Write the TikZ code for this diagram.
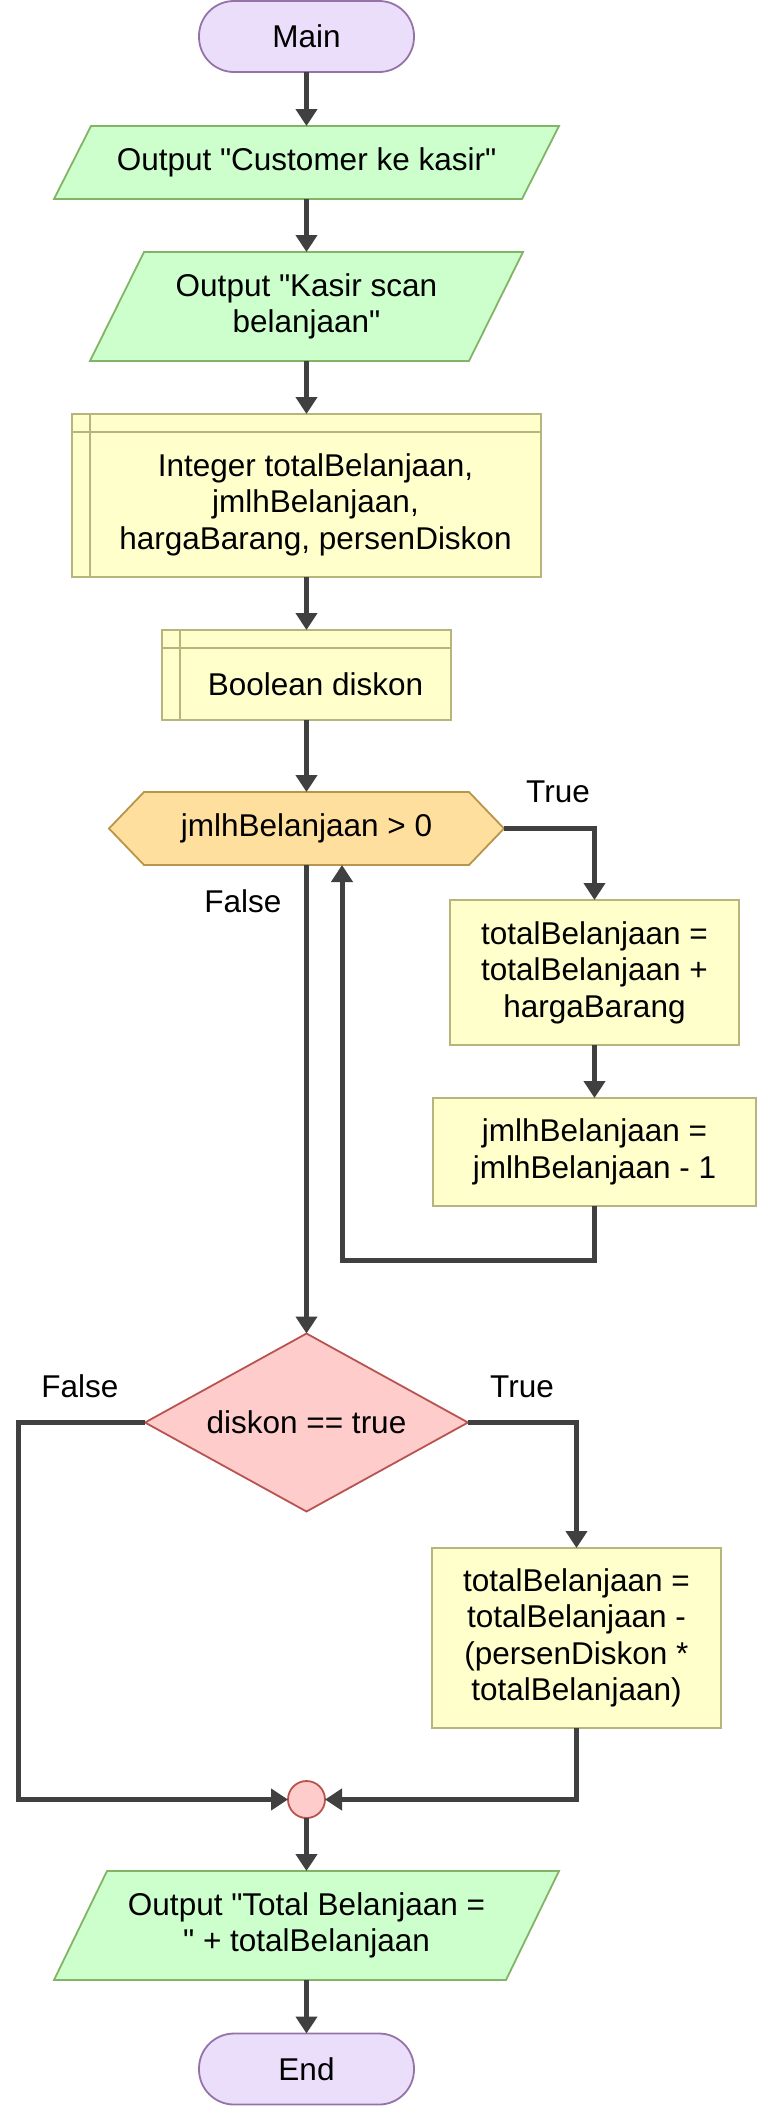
\documentclass[tikz,border=0pt]{standalone}
\usepackage{fontspec}
\setmainfont{Liberation Sans}
\usetikzlibrary{arrows.meta,shapes.geometric,backgrounds}
\definecolor{termfill}{HTML}{EBDEFB}
\definecolor{termdraw}{HTML}{9673A6}
\definecolor{outfill}{HTML}{CCFFCC}
\definecolor{outdraw}{HTML}{82B366}
\definecolor{procfill}{HTML}{FFFFCC}
\definecolor{procdraw}{HTML}{B8B57C}
\definecolor{hexfill}{HTML}{FFDF9E}
\definecolor{hexdraw}{HTML}{B99549}
\definecolor{decfill}{HTML}{FFCCCC}
\definecolor{decdraw}{HTML}{B85450}
\definecolor{linec}{HTML}{404040}
\newcommand{\parashape}[2]{\draw[outsty] ([xshift=#2]#1.north west) -- (#1.north east) -- ([xshift=-#2]#1.south east) -- (#1.south west) -- cycle;}
\newcommand{\qq}{\textquotedbl}
\begin{document}
\begin{tikzpicture}[x=1pt,y=-1pt,
  font=\fontsize{31.5}{36.5}\selectfont,
  every node/.style={inner sep=0pt, outer sep=0pt, align=center},
  term/.style={draw=termdraw, fill=termfill, line width=1.8pt, rounded corners=35pt, minimum width=215pt, minimum height=71pt},
  outsty/.style={draw=outdraw, fill=outfill, line width=1.8pt},
  procbox/.style={draw=procdraw, fill=procfill, line width=1.8pt},
  hexsty/.style={draw=hexdraw, fill=hexfill, line width=1.8pt},
  decsty/.style={draw=decdraw, fill=decfill, line width=1.8pt},
  flow/.style={draw=linec, line width=5pt, -{Triangle[width=21pt,length=17pt]}},
  lbl/.style={text=black}]
\useasboundingbox (0,0) rectangle (757,2107);

% nodes
\node[term] (main) at (306.5,36.5) {Main};
\node[minimum width=505pt, minimum height=73pt] (o1) at (306.5,162.5) {Output \qq Customer ke kasir\qq};
\node[minimum width=433pt, minimum height=109pt] (o2) at (306.5,306.5) {Output \qq Kasir scan\\belanjaan\qq};
\node[procbox, minimum width=469pt, minimum height=163pt] (d1) at (306.5,495.5) {};
\node (d1t) at (315.5,504.5) {Integer totalBelanjaan,\\jmlhBelanjaan,\\hargaBarang, persenDiskon};
\node[procbox, minimum width=289pt, minimum height=90pt] (d2) at (306.5,675) {};
\node (d2t) at (315.5,684) {Boolean diskon};
\node[minimum width=395pt, minimum height=73pt] (hex) at (306.5,828.5) {jmlhBelanjaan > 0};
\node[procbox, minimum width=289pt, minimum height=145pt] (b1) at (594.5,972.5) {totalBelanjaan =\\totalBelanjaan +\\hargaBarang};
\node[procbox, minimum width=323pt, minimum height=108pt] (b2) at (594.5,1152) {jmlhBelanjaan =\\jmlhBelanjaan - 1};
\node[minimum width=323pt, minimum height=178pt] (dia) at (306.5,1422.5) {diskon == true};
\node[procbox, minimum width=289pt, minimum height=180pt] (b3) at (576.5,1638) {totalBelanjaan =\\totalBelanjaan -\\(persenDiskon *\\totalBelanjaan)};
\node[circle, draw=decdraw, fill=decfill, line width=1.8pt, minimum size=37pt] (merge) at (306.5,1799.5) {};
\node[minimum width=505pt, minimum height=109pt] (o3) at (306.5,1925.5) {Output \qq Total Belanjaan =\\\qq\ + totalBelanjaan};
\node[term] (end) at (306.5,2069) {End};

% labels
\node[lbl] (t1) at (558,792) {True};
\node[lbl] (f1) at (243,901) {False};
\node[lbl] (f2) at (80,1386.5) {False};
\node[lbl] (t2) at (522,1386.5) {True};

% background shapes
\begin{scope}[on background layer]
  \parashape{o1}{37pt}
  \parashape{o2}{54pt}
  \parashape{o3}{53pt}
  \draw[hexsty] (hex.west) -- ([xshift=35pt]hex.north west) -- ([xshift=-35pt]hex.north east) -- (hex.east) -- ([xshift=-35pt]hex.south east) -- ([xshift=35pt]hex.south west) -- cycle;
  \draw[decsty] (dia.west) -- (dia.north) -- (dia.east) -- (dia.south) -- cycle;
\end{scope}

% strips of declaration boxes
\draw[draw=procdraw, line width=1.8pt] ([yshift=-18pt]d1.north west) -- ([yshift=-18pt]d1.north east);
\draw[draw=procdraw, line width=1.8pt] ([xshift=18pt]d1.north west) -- ([xshift=18pt]d1.south west);
\draw[draw=procdraw, line width=1.8pt] ([yshift=-18pt]d2.north west) -- ([yshift=-18pt]d2.north east);
\draw[draw=procdraw, line width=1.8pt] ([xshift=18pt]d2.north west) -- ([xshift=18pt]d2.south west);

% coordinates
\coordinate (loopc) at (342,1260);
\coordinate (fl) at (18,1422.5);

% connectors
\draw[flow] (main.south) -- (o1.north);
\draw[flow] (o1.south) -- (o2.north);
\draw[flow] (o2.south) -- (d1.north);
\draw[flow] (d1.south) -- (d2.north);
\draw[flow] (d2.south) -- (hex.north);
\draw[flow] (hex.east) -| (b1.north);
\draw[flow] (b1.south) -- (b2.north);
\draw[flow] (b2.south) |- (loopc) -- (loopc |- hex.south);
\draw[flow] (hex.south) -- (dia.north);
\draw[flow] (dia.east) -| (b3.north);
\draw[flow] (dia.west) -- (fl) |- (merge.west);
\draw[flow] (b3.south) |- (merge.east);
\draw[flow] (merge.south) -- (o3.north);
\draw[flow] (o3.south) -- (end.north);
\end{tikzpicture}
\end{document}
